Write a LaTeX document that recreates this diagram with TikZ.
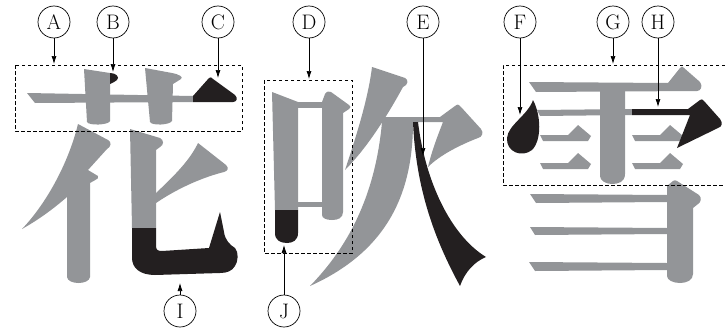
\documentclass[tikz,border=0pt]{standalone}
\usetikzlibrary{arrows.meta}
\definecolor{strokegray}{HTML}{939598}
\definecolor{inkblack}{HTML}{231F20}
\tikzset{
  part/.style={fill=strokegray},
  hilite/.style={fill=inkblack},
  tag/.style={draw, circle, minimum size=32pt, inner sep=0pt, line width=0.7pt, font=\fontsize{21}{21}\selectfont},
  region/.style={dash pattern=on 3.5pt off 2.5pt, line width=0.8pt},
  pointer/.style={-{Latex[length=8pt,width=5pt]}, line width=0.7pt},
}
% one short dot of the rain radical, from its left tip
\newcommand\raindot[2]{\fill[part] (#1,#2) -- ++(28,0) -- ++(10,-10) -- ++(13,11) -- ++(-3,5) -- ++(-45,0) -- cycle;}
\begin{document}
\begin{tikzpicture}[x=1pt, y=-1pt]
  \useasboundingbox (0,0) rectangle (725,332);

  % --- hana ---
  \fill[part] (27,93) -- (193,96) -- (193,102) -- (35,103) -- cycle;
  \fill[part] (84,69) -- (110,73) -- (110,121) .. controls (109,125) and (89,126) .. (87,122) -- cycle;
  \fill[part] (145,68) -- (172,73) .. controls (178,74) and (184,77) .. (181,79) -- (173,84) -- (172,121)
    .. controls (170,125) and (152,126) .. (150,122) -- cycle;
  \fill[part] (78,124) -- (108,140) .. controls (112,142) and (111,147) .. (107,149) -- (88,170) -- (98,176)
    .. controls (99,178) .. (90,183) -- (90,277) .. controls (89,285) and (68,285) .. (67,277) -- (67,197)
    .. controls (52,210) and (38,220) .. (22,229) .. controls (45,205) and (68,165) .. (78,124) -- cycle;
  \fill[part] (130,129) -- (160,138) .. controls (164,140) and (164,145) .. (160,147) -- (156,150) -- (156,228) -- (132,228) -- cycle;
  \fill[part] (156,193) .. controls (175,175) and (190,160) .. (198,143) -- (226,165) .. controls (229,168) and (228,171) .. (224,172)
    .. controls (200,178) and (175,190) .. (156,203) -- cycle;
  % B, C, I
  \fill[hilite] (110,73) .. controls (116,73) and (120,77) .. (117,80) .. controls (115,82) and (112,83) .. (110,84) -- cycle;
  \fill[hilite] (193,102) -- (193,96) -- (209,78) .. controls (211,77) .. (213,79) -- (235,95) .. controls (238,98) and (237,102) .. (233,102) -- cycle;
  \fill[hilite] (132,228) -- (156,228) -- (156,246) .. controls (156,250) and (158,251) .. (162,251) -- (209,248) -- (220,212)
    -- (224,232) .. controls (225,240) and (230,245) .. (235,248) .. controls (239,252) and (238,262) .. (235,266)
    .. controls (232,271) and (227,273) .. (220,273) -- (155,275) .. controls (140,275) and (132,268) .. (132,258) -- cycle;

  % --- fuki ---
  \fill[part] (272,92) -- (298,102) -- (298,210) -- (275,210) -- cycle;
  \fill[part] (298,102) rectangle (322,108);
  \fill[part] (298,202) rectangle (322,207);
  \fill[part] (322,102) -- (325,94) .. controls (327,91) and (329,91) .. (331,92) -- (349,105) .. controls (351,107) .. (349,109)
    -- (343,113) -- (343,212) .. controls (343,218) and (338,220) .. (332,220) .. controls (326,220) and (322,218) .. (322,215) -- cycle;
  \fill[part] (372,67) -- (405,78) .. controls (409,80) and (408,85) .. (403,87) .. controls (385,120) and (365,150) .. (345,170)
    .. controls (355,140) and (368,100) .. (372,67) -- cycle;
  \fill[part] (375,117) -- (440,117) -- (455,106) .. controls (458,104) .. (461,107) -- (481,129) .. controls (484,133) and (482,137) .. (478,138)
    .. controls (460,145) and (440,155) .. (428,167) .. controls (432,150) and (438,135) .. (443,122) -- (375,122) -- cycle;
  \fill[part] (382,122) -- (413,122) .. controls (413,190) and (390,250) .. (310,286) .. controls (345,250) and (375,200) .. (382,122) -- cycle;
  % E, J
  \fill[hilite] (413,122) -- (418,122) .. controls (425,180) and (450,235) .. (486,257) .. controls (474,262) and (465,272) .. (460,286)
    .. controls (435,240) and (416,190) .. (413,122) -- cycle;
  \fill[hilite] (275,210) -- (298,210) -- (298,233) .. controls (298,240) and (293,243) .. (287,243) .. controls (280,243) and (275,240) .. (275,233) -- cycle;

  % --- yuki ---
  \fill[part] (529,82) -- (668,83) -- (680,68) .. controls (682,66) .. (684,68) -- (700,82) .. controls (703,86) and (701,91) .. (697,91) -- (536,92) -- cycle;
  \fill[part] (600,88) -- (625,88) -- (625,174) .. controls (625,182) and (618,184) .. (612,184) .. controls (605,184) and (600,180) .. (600,176) -- cycle;
  \fill[part] (537,110) -- (632,109) -- (632,115) -- (540,116) -- cycle;
  \raindot{540}{135} \raindot{540}{163} \raindot{632}{135} \raindot{632}{163}
  \fill[part] (530,194) -- (667,195) -- (667,202) -- (536,203) -- cycle;
  \fill[part] (530,227) -- (667,228) -- (667,234) -- (535,235) -- cycle;
  \fill[part] (529,262) -- (667,263) -- (667,270) -- (535,271) -- cycle;
  \fill[part] (667,186) -- (673,181) .. controls (675,180) .. (677,181) -- (699,195) .. controls (702,198) and (701,202) .. (698,204)
    -- (693,208) -- (693,274) .. controls (693,280) and (687,283) .. (680,283) .. controls (673,283) and (667,280) .. (667,276) -- cycle;
  % F, H
  \fill[hilite] (533,100) .. controls (541,115) and (542,140) .. (532,150) .. controls (522,158) and (506,152) .. (507,138)
    .. controls (508,125) and (528,115) .. (533,100) -- cycle;
  \fill[hilite] (632,109) -- (688,109) -- (700,100) .. controls (702,99) .. (704,101) -- (720,119) .. controls (723,123) and (722,127) .. (718,128)
    -- (677,148) -- (690,115) -- (632,115) -- cycle;

  % dashed regions
  \draw[region] (15,65) rectangle (242,131);
  \draw[region] (264,80) rectangle (352,253);
  \draw[region] (725,65) -- (503,65) -- (503,185) -- (725,185);

  % circled letters
  \node[tag] (lA) at (54,22) {A};
  \node[tag] (lB) at (113,22) {B};
  \node[tag] (lC) at (218,22) {C};
  \node[tag] (lD) at (309,22) {D};
  \node[tag] (lE) at (423,22) {E};
  \node[tag] (lF) at (520,22) {F};
  \node[tag] (lG) at (613,22) {G};
  \node[tag] (lH) at (658,22) {H};
  \node[tag] (lI) at (180,311) {I};
  \node[tag] (lJ) at (284,311) {J};

  % arrow ends
  \coordinate (pA) at (54,64);
  \coordinate (pB) at (113,72);
  \coordinate (pC) at (218,78);
  \coordinate (pD) at (309,79);
  \coordinate (pE) at (423,156);
  \coordinate (pF) at (520,115);
  \coordinate (pG) at (613,64);
  \coordinate (pH) at (658,107);
  \coordinate (pI) at (180,283);
  \coordinate (pJ) at (284,245);
  \foreach \l in {A,B,C,D,E,F,G,H,I,J}
    \draw[pointer] (l\l) -- (p\l);
\end{tikzpicture}
\end{document}
